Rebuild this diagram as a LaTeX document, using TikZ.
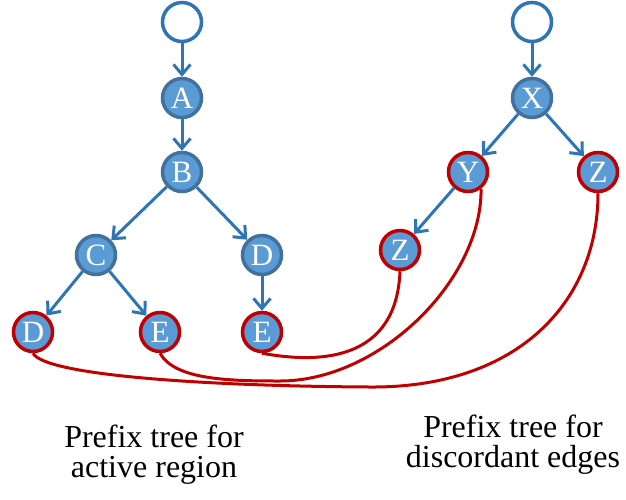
\documentclass[tikz,border=0pt]{standalone}
\usepackage{fontspec}
\setmainfont{Liberation Serif}
\usetikzlibrary{arrows.meta}
\definecolor{nodefill}{HTML}{5B9BD5}
\definecolor{nodeline}{HTML}{41719C}
\definecolor{edgeblue}{HTML}{2E75B6}
\definecolor{darkred}{HTML}{C00000}
\begin{document}
\begin{tikzpicture}[x=1pt,y=-1pt,
  trie/.style={circle,draw=nodeline,fill=nodefill,line width=3.5pt,minimum size=39pt,inner sep=0pt,
               text=white,font=\fontsize{31}{31}\selectfont},
  rootnode/.style={trie,draw=edgeblue,fill=white},
  hit/.style={trie,draw=darkred},
  edge/.style={draw=edgeblue,line width=3pt,-{Straight Barb[length=10pt,width=17pt]}},
  link/.style={draw=darkred,line width=3pt},
  caption/.style={align=center,font=\fontsize{32}{30}\selectfont}]
\useasboundingbox (0,0) rectangle (626,499);
\def\lx{182} % x of the left tree
\def\rx{532} % x of the right tree

% prefix tree for the active region
\node[rootnode] (r1) at (\lx,22) {};
\node[trie] (a) at (\lx,98) {A};
\node[trie] (b) at (\lx,172) {B};
\node[trie] (c) at (96,255) {C};
\node[trie] (d) at (262,255) {D};
\node[hit] (cd) at (33,332) {D};
\node[hit] (ce) at (160,332) {E};
\node[hit] (de) at (262,332) {E};

% prefix tree for the discordant edges
\node[rootnode] (r2) at (\rx,22) {};
\node[trie] (x) at (\rx,98) {X};
\node[hit] (y) at (468,172) {Y};
\node[hit] (xz) at (598,172) {Z};
\node[hit] (yz) at (400,250) {Z};

\draw[edge] (r1) -- (a);
\draw[edge] (a) -- (b);
\draw[edge] (b) -- (c);
\draw[edge] (b) -- (d);
\draw[edge] (c) -- (cd);
\draw[edge] (c) -- (ce);
\draw[edge] (d) -- (de);
\draw[edge] (r2) -- (x);
\draw[edge] (x) -- (y);
\draw[edge] (x) -- (xz);
\draw[edge] (y) -- (yz);

% matching leaves
\draw[link] (de.south) .. controls (300,360) and (396,372) .. (yz.south);
\draw[link] (ce.south) .. controls (175,380) and (230,381) .. (280,381)
            .. controls (380,381) and (482,280) .. (y.-52);
\draw[link] (cd.south) .. controls (45,375) and (200,386) .. (370,387)
            .. controls (520,388) and (598,300) .. (xz.south);

\node[caption] (cap1) at (154,455) {Prefix tree for\\active region};
\node[caption] (cap2) at (513,445) {Prefix tree for\\discordant edges};
\end{tikzpicture}
\end{document}
